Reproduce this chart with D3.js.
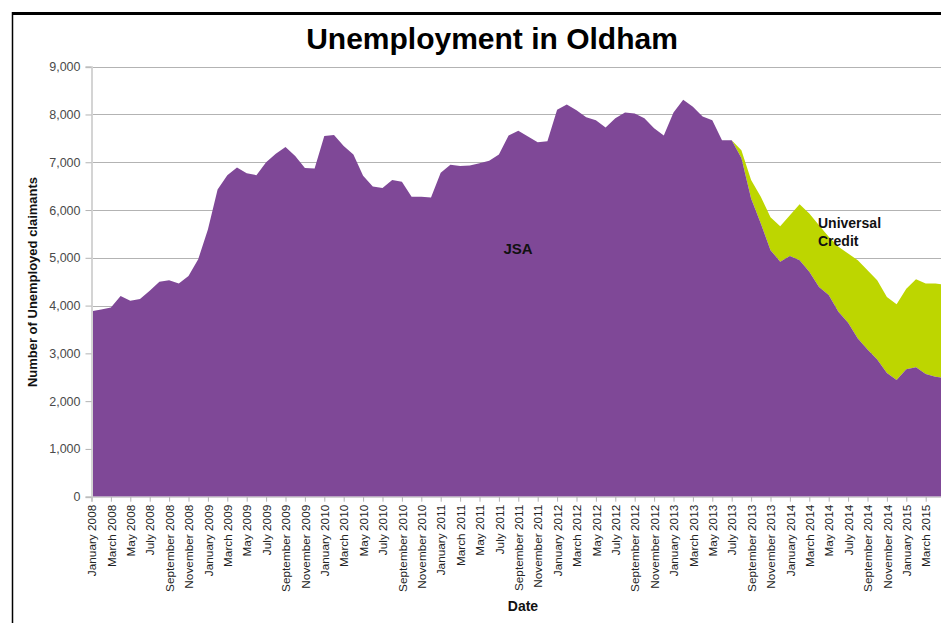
<!DOCTYPE html>
<html>
<head>
<meta charset="utf-8">
<script src="https://cdn.jsdelivr.net/npm/d3@7"></script>
<style>
  html, body { margin: 0; padding: 0; background: #fff; }
  svg { display: block; }
  text { font-family: "Liberation Sans", Arial, sans-serif; }
</style>
</head>
<body>
<svg id="chart" width="941" height="623"></svg>
<script>
// ---- Data ----
const monthNames = ["January","February","March","April","May","June","July","August","September","October","November","December"];
const years = [2008, 2009, 2010, 2011, 2012, 2013, 2014, 2015];
const lastMonthCount2015 = 5; // January–May 2015

// JSA claimants (monthly)
const jsa = [
  3880, 3920, 3960, 4200, 4100, 4140, 4310, 4500, 4530, 4460, 4620, 4970,
  5590, 6430, 6730, 6890, 6770, 6730, 7000, 7180, 7320, 7130, 6880, 6870,
  7550, 7570, 7340, 7160, 6720, 6490, 6460, 6630, 6590, 6280, 6280, 6260,
  6780, 6950, 6920, 6930, 6980, 7030, 7160, 7560, 7660, 7540, 7420, 7440,
  8100, 8210, 8090, 7940, 7880, 7730, 7920, 8040, 8020, 7920, 7710, 7560,
  8040, 8310, 8160, 7960, 7880, 7460, 7460, 7090, 6240, 5720, 5160, 4920,
  5040, 4950, 4710, 4390, 4220, 3870, 3640, 3310, 3080, 2870, 2590, 2440,
  2670, 2710, 2570, 2510, 2480
];

// Universal Credit claimants (from July 2013)
const ucStart = "July 2013";
const uc = [
  0, 160, 390, 560, 690, 740,
  850, 1170, 1220, 1290, 1220, 1360, 1450, 1640, 1660, 1660, 1590, 1590,
  1680, 1840, 1890, 1950, 1960
];

const yTicks = [0, 1000, 2000, 3000, 4000, 5000, 6000, 7000, 8000, 9000];

// ---- Categories ----
const months = [];
years.forEach(yr => {
  const n = yr === 2015 ? lastMonthCount2015 : 12;
  for (let i = 0; i < n; i++) months.push(monthNames[i] + " " + yr);
});
const ucIndex = months.indexOf(ucStart);
const rows = months.map((m, i) => ({
  month: m,
  jsa: jsa[i],
  uc: i >= ucIndex ? uc[i - ucIndex] : null
}));

// ---- Layout ----
const svg = d3.select("#chart");
const plotLeft = 91.5, plotTop = 66.7, plotBottom = 496.7;
const step = 9.7;

const x = d3.scalePoint()
  .domain(months)
  .range([plotLeft, plotLeft + step * (months.length - 1)]);
const y = d3.scaleLinear().domain([0, 9000]).range([plotBottom, plotTop]);

// frame
svg.append("line").attr("x1", 12).attr("x2", 941).attr("y1", 13.5).attr("y2", 13.5)
  .attr("stroke", "#000").attr("stroke-width", 3);
svg.append("line").attr("x1", 12.5).attr("x2", 12.5).attr("y1", 12).attr("y2", 623)
  .attr("stroke", "#000").attr("stroke-width", 1.5);

// gridlines
svg.append("g").selectAll("line").data(yTicks.filter(t => t > 0)).join("line")
  .attr("x1", plotLeft).attr("x2", 941)
  .attr("y1", d => Math.round(y(d)) + 0.5).attr("y2", d => Math.round(y(d)) + 0.5)
  .attr("stroke", "#b3b3b3").attr("stroke-width", 1);

// areas
const ucArea = d3.area()
  .defined(d => d.uc != null)
  .x(d => x(d.month))
  .y0(d => y(d.jsa))
  .y1(d => y(d.jsa + d.uc));
svg.append("path").datum(rows).attr("d", ucArea).attr("fill", "#bdd600");

const jsaArea = d3.area()
  .x(d => x(d.month))
  .y0(y(0))
  .y1(d => y(d.jsa));
svg.append("path").datum(rows).attr("d", jsaArea).attr("fill", "#7f4897");

// y axis
const yAxis = d3.axisLeft(y).tickValues(yTicks).tickFormat(d3.format(",")).tickSize(6).tickPadding(5);
const gy = svg.append("g").attr("transform", `translate(${plotLeft},0)`).call(yAxis);
gy.select(".domain").attr("stroke", "#d4d4d4").attr("stroke-width", 2);
gy.selectAll(".tick line").attr("stroke", "#b3b3b3");
gy.selectAll("text").attr("fill", "#4a4a4a").style("font-size", "12.5px")
  .style("font-family", '"Liberation Sans", Arial, sans-serif');

// x axis
const xTickVals = months.filter((m, i) => i % 2 === 0);
const xAxis = d3.axisBottom(x).tickValues(xTickVals).tickSize(5).tickPadding(4);
const gx = svg.append("g").attr("transform", `translate(0,${plotBottom})`).call(xAxis);
gx.select(".domain").attr("stroke", "#d4d4d4").attr("stroke-width", 1.5);
gx.selectAll(".tick line").attr("stroke", "#b3b3b3");
gx.selectAll("text")
  .attr("fill", "#222")
  .style("font-size", "11.8px")
  .style("font-family", '"Liberation Sans", Arial, sans-serif')
  .attr("text-anchor", "end")
  .attr("transform", "rotate(-90)")
  .attr("x", -8)
  .attr("y", 0)
  .attr("dy", "0.35em");

// titles
svg.append("text").attr("x", 492).attr("y", 49).attr("text-anchor", "middle")
  .style("font-size", "30px").style("font-weight", "bold").attr("fill", "#000")
  .text("Unemployment in Oldham");

svg.append("text")
  .attr("transform", "translate(37,282) rotate(-90)")
  .attr("text-anchor", "middle")
  .style("font-size", "13px").style("font-weight", "bold").attr("fill", "#111")
  .text("Number of Unemployed claimants");

svg.append("text").attr("x", 523).attr("y", 611).attr("text-anchor", "middle")
  .style("font-size", "14px").style("font-weight", "bold").attr("fill", "#111")
  .text("Date");

// series labels
svg.append("text").attr("x", 518).attr("y", 254).attr("text-anchor", "middle")
  .style("font-size", "15px").style("font-weight", "bold").attr("fill", "#111")
  .text("JSA");

const ucLabel = svg.append("text").attr("x", 818).attr("y", 228)
  .style("font-size", "14px").style("font-weight", "bold").attr("fill", "#111");
ucLabel.append("tspan").attr("x", 818).attr("y", 228).text("Universal");
ucLabel.append("tspan").attr("x", 818).attr("y", 246).text("Credit");
</script>
</body>
</html>
